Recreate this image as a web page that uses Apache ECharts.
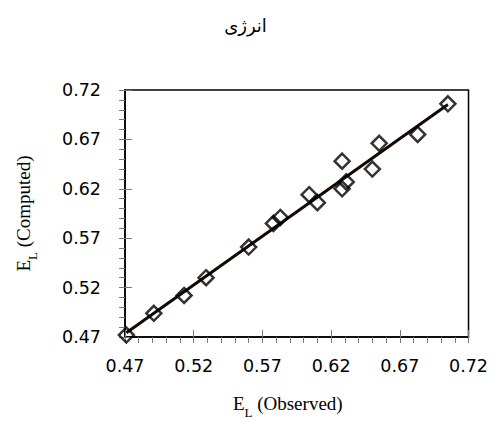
<!DOCTYPE html>
<html>
<head>
<meta charset="utf-8">
<script src="https://cdn.jsdelivr.net/npm/echarts@6/dist/echarts.min.js"></script>
<style>html,body{margin:0;padding:0;background:#fff}#c{width:491px;height:439px}</style>
</head>
<body>
<div id="c"></div>
<script>
var titleText = 'انرژی';
var xName = 'E_L (Observed)';
var yName = 'E_L (Computed)';
var observed = [0.471, 0.491, 0.513, 0.529, 0.560, 0.578, 0.583, 0.604, 0.610, 0.628, 0.631, 0.628, 0.650, 0.655, 0.683, 0.705];
var computed = [0.472, 0.494, 0.512, 0.530, 0.561, 0.585, 0.591, 0.614, 0.606, 0.648, 0.627, 0.620, 0.640, 0.666, 0.675, 0.706];
var axisMin = 0.47, axisMax = 0.72, majorStep = 0.05, minorStep = 0.01;

// least-squares fit line from data
var n = observed.length, sx = 0, sy = 0, sxx = 0, sxy = 0;
for (var i = 0; i < n; i++) { sx += observed[i]; sy += computed[i]; sxx += observed[i]*observed[i]; sxy += observed[i]*computed[i]; }
var slope = (n*sxy - sx*sy) / (n*sxx - sx*sx);
var icpt = (sy - slope*sx) / n;
var xmin = Math.min.apply(null, observed), xmax = Math.max.apply(null, observed);
var fitLine = [[xmin, slope*xmin + icpt], [xmax, slope*xmax + icpt]];

var pts = observed.map(function (v, i) { return [v, computed[i]]; });

function nameRich(s) {
  var p = s.split('_');
  var rest = p[1].substring(1);
  return '{e|' + p[0] + '}{s|' + p[1].charAt(0) + '}{e|' + rest + '}';
}
var serif = "'Liberation Serif', serif";
var richStyle = {
  e: { fontFamily: serif, fontSize: 19, color: '#000' },
  s: { fontFamily: serif, fontSize: 13, color: '#000', verticalAlign: 'bottom', padding: [0, 0, -6, 0] }
};
var labelStyle = { fontFamily: "'DejaVu Sans', sans-serif", fontSize: 17.5, color: '#000' };

var chart = echarts.init(document.getElementById('c'), null, { renderer: 'svg' });
chart.setOption({
  animation: false,
  title: { text: titleText, left: 'center', top: 12, textStyle: { fontFamily: "'Liberation Serif', 'DejaVu Sans', serif", fontSize: 18, fontWeight: 'normal', color: '#000' } },
  grid: { left: 125, right: 20, top: 90, bottom: 102, show: true, borderColor: '#000', borderWidth: 1.5, containLabel: false },
  xAxis: [{
    type: 'value', min: axisMin, max: axisMax, interval: majorStep, position: 'bottom',
    name: nameRich(xName), nameLocation: 'middle', nameGap: 57,
    nameTextStyle: { rich: richStyle, padding: [0, 18, 0, 0] },
    axisLine: { lineStyle: { color: '#000', width: 1.5 } },
    axisTick: { inside: true, length: 7, lineStyle: { color: '#777', width: 1 } },
    axisLabel: Object.assign({ margin: 20, formatter: function (v) { return v.toFixed(2); } }, labelStyle),
    splitLine: { show: false }
  }, {
    type: 'value', min: axisMin, max: axisMax, interval: minorStep, position: 'bottom',
    axisLine: { show: false }, axisLabel: { show: false }, splitLine: { show: false },
    axisTick: { inside: false, length: 6, lineStyle: { color: '#777', width: 1 } }
  }],
  yAxis: [{
    type: 'value', min: axisMin, max: axisMax, interval: majorStep, position: 'left',
    name: nameRich(yName), nameLocation: 'middle', nameGap: 92, nameRotate: 90,
    nameTextStyle: { rich: richStyle },
    axisLine: { lineStyle: { color: '#000', width: 1.5 } },
    axisTick: { inside: true, length: 7, lineStyle: { color: '#777', width: 1 } },
    axisLabel: Object.assign({ margin: 24, formatter: function (v) { return v.toFixed(2); } }, labelStyle),
    splitLine: { show: false }
  }, {
    type: 'value', min: axisMin, max: axisMax, interval: minorStep, position: 'left',
    axisLine: { show: false }, axisLabel: { show: false }, splitLine: { show: false },
    axisTick: { inside: false, length: 6, lineStyle: { color: '#777', width: 1 } }
  }],
  series: [{
    type: 'line', data: fitLine, xAxisIndex: 0, yAxisIndex: 0, showSymbol: false, symbol: 'none',
    lineStyle: { color: '#140800', width: 3 }, z: 2
  }, {
    type: 'scatter', data: pts, xAxisIndex: 0, yAxisIndex: 0, symbol: 'diamond', symbolSize: [15, 15],
    itemStyle: { color: 'rgba(0,0,0,0)', borderColor: '#000', borderWidth: 2.5 }, z: 3
  }]
});
</script>
</body>
</html>
